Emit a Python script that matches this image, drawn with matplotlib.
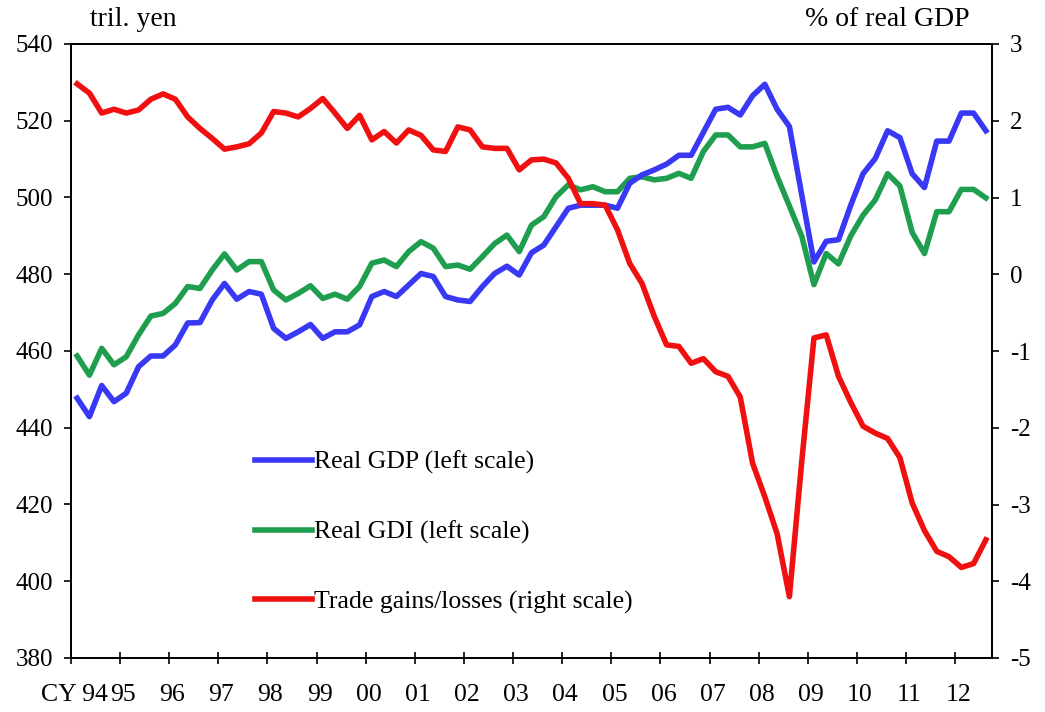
import matplotlib
matplotlib.use("Agg")
import matplotlib.pyplot as plt
import matplotlib.transforms as mtransforms
import numpy as np

plt.rcParams['font.family'] = ['Liberation Serif', 'DejaVu Serif']
plt.rcParams['axes.unicode_minus'] = False

# quarterly, CY1994 Q1 .. CY2012 Q3
year_labels = ['CY 94', '95', '96', '97', '98', '99', '00', '01', '02', '03',
               '04', '05', '06', '07', '08', '09', '10', '11', '12']

real_gdp = [447.7, 442.9, 451.0, 446.8, 449.0, 455.9, 458.7, 458.7,
            461.6, 467.3, 467.4, 473.3, 477.6, 473.5, 475.5, 474.8,
            465.9, 463.3, 465.0, 466.9, 463.3, 465.0, 465.0, 466.8,
            474.2, 475.5, 474.2, 477.2, 480.2, 479.4, 474.2, 473.3,
            472.9, 476.8, 480.2, 482.1, 479.8, 485.6, 487.6, 492.4,
            497.2, 498.0, 498.0, 498.0, 497.2, 503.7, 505.9, 507.2,
            508.7, 511.0, 511.0, 517.0, 523.0, 523.5, 521.5, 526.5,
            529.5, 523.0, 518.5, 500.8, 483.2, 488.6, 489.0, 498.0,
            506.2, 510.2, 517.4, 515.6, 506.2, 502.6, 514.7, 514.7,
            522.0, 522.0, 517.4]

real_gdi = [458.7, 453.7, 460.7, 456.4, 458.5, 464.2, 469.1, 469.8,
            472.4, 476.8, 476.3, 481.1, 485.3, 481.1, 483.3, 483.3,
            475.9, 473.3, 475.0, 477.0, 473.7, 474.8, 473.5, 476.8,
            482.9, 483.7, 482.0, 485.9, 488.5, 486.8, 482.0, 482.4,
            481.3, 484.6, 488.0, 490.2, 485.9, 492.8, 495.0, 500.2,
            503.3, 502.0, 502.8, 501.5, 501.5, 505.0, 505.4, 504.6,
            505.0, 506.3, 505.0, 512.0, 516.3, 516.3, 513.2, 513.2,
            514.1, 505.5, 497.8, 490.0, 477.3, 485.4, 482.7, 490.0,
            495.4, 499.4, 506.2, 503.0, 490.9, 485.4, 496.3, 496.3,
            502.1, 502.1, 499.9]

trade_gains = [2.48, 2.36, 2.10, 2.15, 2.10, 2.14, 2.28, 2.35,
               2.28, 2.05, 1.90, 1.77, 1.63, 1.66, 1.70, 1.84,
               2.12, 2.10, 2.05, 2.16, 2.29, 2.10, 1.90, 2.07,
               1.75, 1.86, 1.71, 1.88, 1.81, 1.62, 1.60, 1.92,
               1.88, 1.66, 1.64, 1.64, 1.36, 1.49, 1.50, 1.45,
               1.25, 0.92, 0.92, 0.90, 0.58, 0.14, -0.12, -0.55,
               -0.92, -0.94, -1.16, -1.10, -1.27, -1.33, -1.60, -2.46,
               -2.90, -3.38, -4.20, -2.45, -0.83, -0.79, -1.33, -1.67,
               -1.98, -2.07, -2.14, -2.39, -2.98, -3.34, -3.61, -3.68,
               -3.82, -3.77, -3.46]

x = np.arange(len(real_gdp))

fig = plt.figure(figsize=(10.45, 7.12), dpi=100)
left, right, top, bottom = 71, 992, 44, 658
ax = fig.add_axes([left/1045, 1 - bottom/712, (right - left)/1045, (bottom - top)/712])
ax2 = ax.twinx()

lw = 4.0
l1, = ax.plot(x, real_gdp, color='#3838F5', lw=lw, label='Real GDP (left scale)', zorder=3)
l2, = ax.plot(x, real_gdi, color='#1E9E4E', lw=lw, label='Real GDI (left scale)', zorder=2)
l3, = ax2.plot(x, trade_gains, color='#F01010', lw=lw, label='Trade gains/losses (right scale)')

ax.set_xlim(-0.5, len(x) - 0.5)
ax.set_ylim(380, 540)
ax2.set_ylim(-5, 3)
ax.set_yticks(np.arange(380, 541, 20))
ax2.set_yticks(np.arange(-5, 4, 1))

ticks = np.arange(len(year_labels)) * 4 - 0.5
ax.set_xticks(ticks)
ax.set_xticklabels(year_labels)

for a in (ax, ax2):
    for s in a.spines.values():
        s.set_linewidth(1.3)
ax.tick_params(axis='x', direction='inout', length=9, width=1.2, pad=14, labelsize=18.5)
ax.tick_params(axis='y', direction='out', length=5, width=1.2, pad=8, labelsize=18)
ax2.tick_params(axis='y', direction='out', length=5, width=1.2, pad=8, labelsize=18)

# year labels sit a touch right of the tick marks
shift = mtransforms.ScaledTranslation(3/100, 0, fig.dpi_scale_trans)
for lab in ax.get_xticklabels():
    lab.set_transform(lab.get_transform() + shift)

fig.text(90/1045, 1 - 20/712, 'tril. yen', fontsize=20, va='center', ha='left')
fig.text(970/1045, 1 - 20/712, '% of real GDP', fontsize=20, va='center', ha='right')

ax.legend(handles=[l1, l2, l3], loc='upper left', frameon=False,
          bbox_to_anchor=((255 - left) / (right - left), (bottom - 451) / (bottom - top)),
          borderpad=0, borderaxespad=0, handlelength=2.2, handletextpad=0.1,
          labelspacing=1.8, fontsize=18.5)

fig.savefig('out.png', dpi=100)
